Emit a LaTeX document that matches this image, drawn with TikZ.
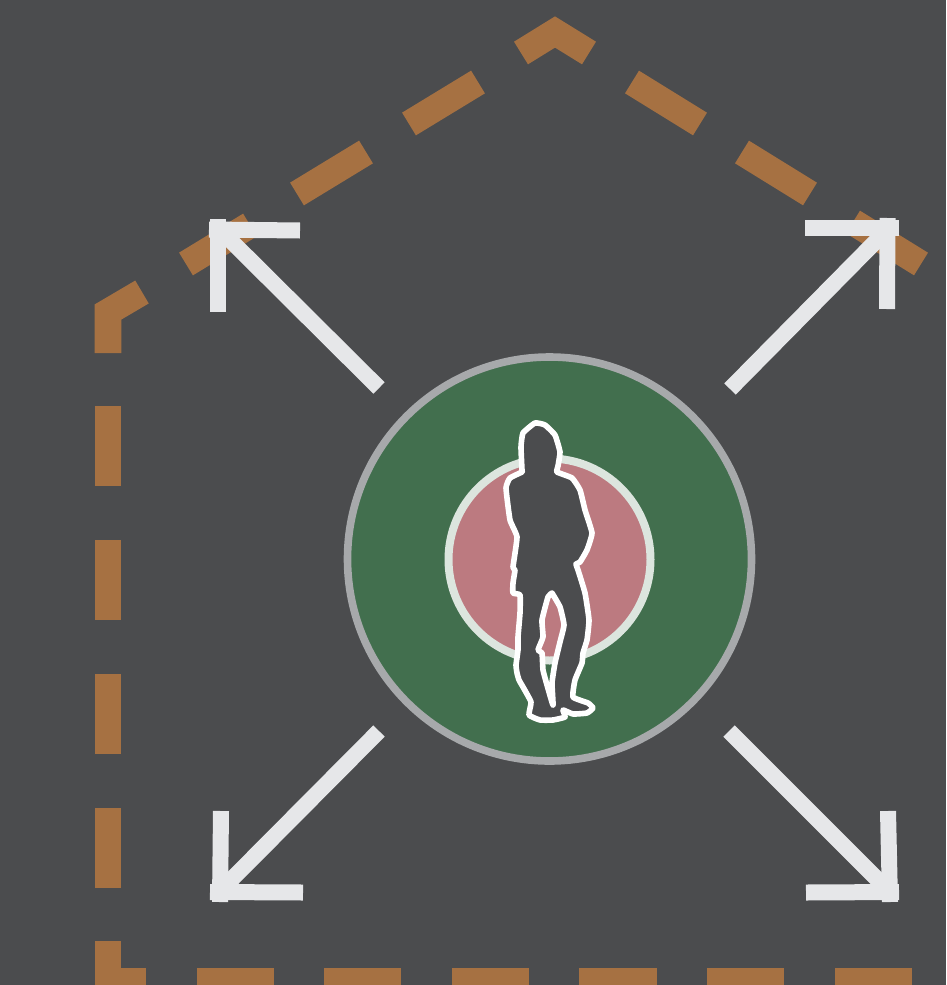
\documentclass[tikz,border=0pt]{standalone}
\definecolor{bgc}{HTML}{4B4C4E}
\definecolor{dashc}{HTML}{A67142}
\definecolor{arrowc}{HTML}{E6E7E9}
\definecolor{greenc}{HTML}{426F4E}
\definecolor{ringc}{HTML}{A7A9AB}
\definecolor{pinkc}{HTML}{BC7A80}
\definecolor{pringc}{HTML}{DCE5DE}
\tikzset{
  dashpiece/.style={draw=dashc,line width=26.6pt,line cap=butt,line join=miter},
  arrowbar/.style={draw=arrowc,line width=16pt,line cap=butt},
  figure outline/.style={draw=white,line width=5.6pt,fill=bgc,even odd rule,line join=round}
}
\begin{document}
\begin{tikzpicture}[x=1pt,y=-1pt]
\fill[bgc] (0,0) rectangle (946,985);
\useasboundingbox (0,0) rectangle (946,985);
% dashed house outline
\draw[dashpiece] (108,353) -- (108,312) -- (142,292);
\draw[dashpiece] (186,264) -- (250,225);
\draw[dashpiece] (297,194) -- (366,152);
\draw[dashpiece] (409,124) -- (478,82);
\draw[dashpiece] (521,53) -- (555,32) -- (589,53);
\draw[dashpiece] (632,82) -- (700,124);
\draw[dashpiece] (742,152) -- (810,194);
\draw[dashpiece] (853,222) -- (921,264);
\draw[dashpiece] (108,486) -- (108,406);
\draw[dashpiece] (108,620) -- (108,540);
\draw[dashpiece] (108,754) -- (108,674);
\draw[dashpiece] (108,888) -- (108,808);
\draw[dashpiece] (108,941) -- (108,981) -- (146,981);
\draw[dashpiece] (197,981) -- (274,981);
\draw[dashpiece] (324,981) -- (401,981);
\draw[dashpiece] (452,981) -- (529,981);
\draw[dashpiece] (579,981) -- (657,981);
\draw[dashpiece] (707,981) -- (784,981);
\draw[dashpiece] (835,981) -- (912,981);
% arrows
\draw[arrowbar] (379,388) -- (216,226);
\draw[arrowbar] (209,229.5) -- (300,230.5);
\draw[arrowbar] (218,219) -- (218,312);
\draw[arrowbar] (730,389) -- (888,229);
\draw[arrowbar] (805,228) -- (899,228);
\draw[arrowbar] (887.5,218) -- (887,309);
\draw[arrowbar] (379,731) -- (221,890);
\draw[arrowbar] (221,811) -- (220,902);
\draw[arrowbar] (210,892) -- (303,892.5);
\draw[arrowbar] (729,731) -- (888,890);
\draw[arrowbar] (888,811) -- (890,902);
\draw[arrowbar] (806,892.5) -- (899,892);
% circles
\draw[fill=greenc,draw=ringc,line width=7.6pt] (549.5,559) circle[radius=202];
\draw[fill=pinkc,draw=pringc,line width=8pt] (549.5,559.5) circle[radius=101];
% silhouette
\draw[figure outline]
  plot[smooth,tension=0.25] coordinates {(522,470) (521,447) (523,433) (535,423) (545,425) (555,435) (560,452) (558,466) (557,472)
  (572,478) (580,490) (585,510) (592,533) (587,550) (580,562) (576,564) (578,570)
  (585,593) (589,620) (587,640) (583,653) (582,663) (575,680) (573,697) (588,703) (593,708) (587,713)
  (573,714) (563,710) (565,717) (553,720) (540,720) (529,715) (531,702) (523,687) (519,680) (517,673) (516,665)
  (518,650) (518,637) (520,613) (520,595) (513,593) (513,583) (515,570) (513,567) (517,537) (510,520)
  (506,488) (510,478) (522,472) (522,470)} -- cycle
  plot[smooth,tension=0.25] coordinates {(552,593) (560,607) (564,625) (560,642) (555,663) (552,683) (553,705)
  (547,685) (543,670) (542,653) (538,650) (543,637) (542,620) (548,597) (552,593)} -- cycle;
\end{tikzpicture}
\end{document}
